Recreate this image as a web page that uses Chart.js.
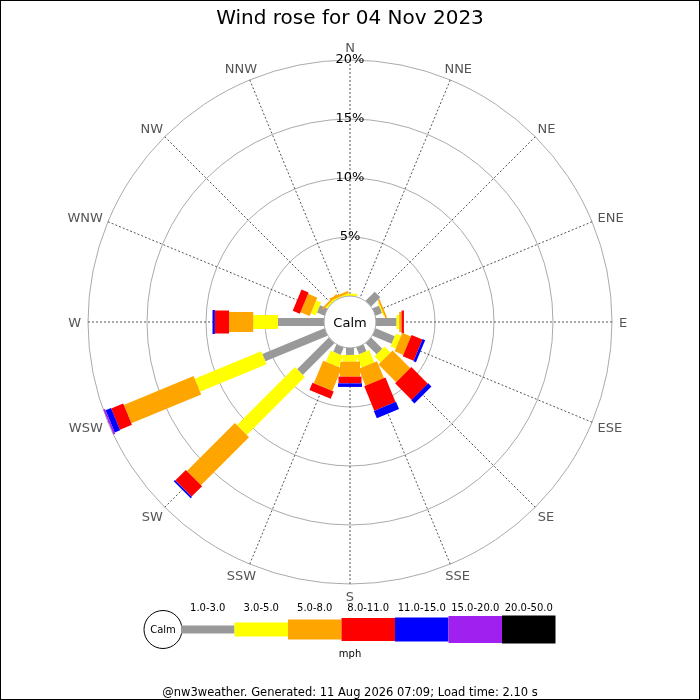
<!DOCTYPE html>
<html>
<head>
<meta charset="utf-8">
<title>Wind rose for 04 Nov 2023</title>
<script src="https://cdn.jsdelivr.net/npm/chart.js@4/dist/chart.umd.min.js"></script>
<style>
html, body { margin: 0; padding: 0; background: #fff; }
#wrap { width: 700px; height: 700px; position: relative; }
</style>
</head>
<body>
<div id="wrap"><canvas id="rosa"></canvas></div>
<script>
// directions, clockwise from north
var direcoes = ["N","NNE","NE","ENE","E","ESE","SE","SSE","S","SSW","SW","WSW","W","WNW","NW","NNW"];
var faixas = ["1.0-3.0","3.0-5.0","5.0-8.0","8.0-11.0","11.0-15.0","15.0-20.0","20.0-50.0"];
var valoresTicks = [5, 10, 15, 20];

// % of the day per direction, one array per speed band (mph)
var vel1a3   = [0, 0, 1.1, 0.6, 1.75, 1.77, 1.33, 0.62, 0.59, 0.68, 3.8, 5.7, 3.9, 0.7, 0, 0];
var vel3a5   = [0.2, 0, 0, 0.1, 0.22, 0.48, 0.73, 1.12, 0.57, 1.02, 6.95, 6.1, 2.1, 0.45, 0.15, 0.1];
var vel5a8   = [0, 0, 0, 0.15, 0.2, 0.79, 2.12, 1.56, 1.27, 2.07, 5.75, 6.4, 2.05, 0.85, 0.15, 0.2];
var vel8a11  = [0, 0, 0, 0, 0.2, 1.0, 1.98, 2.23, 0.57, 0.66, 1.25, 1.1, 1.2, 0.65, 0, 0];
var vel11a15 = [0, 0, 0, 0, 0, 0.23, 0.38, 0.67, 0.3, 0, 0.15, 0.5, 0.2, 0, 0, 0];
var vel15a20 = [0, 0, 0, 0, 0, 0, 0, 0, 0, 0, 0, 0.15, 0, 0, 0, 0];
var vel20a50 = [0, 0, 0, 0, 0, 0, 0, 0, 0, 0, 0, 0, 0, 0, 0, 0];

var series = [vel1a3, vel3a5, vel5a8, vel8a11, vel11a15, vel15a20, vel20a50];
var cores = ["#999999", "#ffff00", "#ffa500", "#ff0000", "#0000ff", "#a020f0", "#000000"];
var larguras = [8, 14, 20, 23, 24, 27, 28];

var fonte = "DejaVu Sans";
Chart.defaults.font.family = fonte;

// each band is stacked on the previous ones, so the radar points sit at the running total
var datasets = [];
var acumulado = direcoes.map(function () { return 0; });
for (var k = 0; k < series.length; k++) {
  var s = series[k];
  acumulado = acumulado.map(function (v, i) { return v + s[i]; });
  datasets.push({
    label: faixas[k],
    data: acumulado.slice(),
    showLine: false,
    fill: false,
    borderWidth: 0,
    pointRadius: 0,
    pointHitRadius: 0
  });
}

var barrasPlugin = {
  id: "barras",
  afterDatasetsDraw: function (chart) {
    var ctx = chart.ctx;
    var r = chart.scales.r;
    ctx.save();
    ctx.lineCap = "butt";
    for (var i = 0; i < direcoes.length; i++) {
      var inicio = r.getPointPositionForValue(i, 0);
      for (var k = 0; k < series.length; k++) {
        var p = chart.getDatasetMeta(k).data[i];
        if (series[k][i] > 0) {
          ctx.beginPath();
          ctx.moveTo(inicio.x, inicio.y);
          ctx.lineTo(p.x, p.y);
          ctx.lineWidth = larguras[k];
          ctx.strokeStyle = cores[k];
          ctx.stroke();
        }
        inicio = { x: p.x, y: p.y };
      }
    }
    // calm circle in the middle
    var raio = r.getDistanceFromCenterForValue(0);
    ctx.beginPath();
    ctx.arc(r.xCenter, r.yCenter, raio, 0, Math.PI * 2);
    ctx.fillStyle = "#fff";
    ctx.fill();
    ctx.lineWidth = 1;
    ctx.strokeStyle = "#aaa";
    ctx.stroke();
    ctx.fillStyle = "#000";
    ctx.font = "13px '" + fonte + "'";
    ctx.textAlign = "center";
    ctx.textBaseline = "middle";
    ctx.fillText("Calm", r.xCenter, r.yCenter + 1.5);
    ctx.restore();
  }
};

var rotulosPlugin = {
  id: "rotulos",
  afterDraw: function (chart) {
    var ctx = chart.ctx;
    var r = chart.scales.r;
    ctx.save();
    ctx.textAlign = "center";
    ctx.textBaseline = "middle";

    // compass labels
    ctx.font = "13px '" + fonte + "'";
    ctx.fillStyle = "#555";
    for (var i = 0; i < direcoes.length; i++) {
      var ang = r.getIndexAngle(i);
      var pos = r.getPointPosition(i, r.drawingArea + 6);
      var w = ctx.measureText(direcoes[i]).width;
      ctx.fillText(direcoes[i], pos.x + Math.sin(ang) * (w / 2 + 1), pos.y - Math.cos(ang) * 6.5 + 1.5);
    }

    // speed legend
    var lx = 181, ly = 629.5, lw = 53.5;
    ctx.beginPath();
    ctx.arc(163, ly, 19, 0, Math.PI * 2);
    ctx.fillStyle = "#fff";
    ctx.fill();
    ctx.strokeStyle = "#000";
    ctx.lineWidth = 1;
    ctx.stroke();
    ctx.font = "10px '" + fonte + "'";
    ctx.fillStyle = "#000";
    ctx.fillText("Calm", 163, ly + 1);
    for (var k = 0; k < faixas.length; k++) {
      ctx.fillStyle = cores[k];
      ctx.fillRect(lx + k * lw, ly - larguras[k] / 2, lw, larguras[k]);
      ctx.fillStyle = "#000";
      ctx.fillText(faixas[k], lx + k * lw + lw / 2, 608.5);
    }
    ctx.fillText("mph", 350, 654.5);

    // frame
    ctx.strokeStyle = "#000";
    ctx.strokeRect(0.5, 0.5, chart.width - 1, chart.height - 1);
    ctx.restore();
  }
};

var grafico = new Chart(document.getElementById("rosa").getContext("2d"), {
  type: "radar",
  data: { labels: direcoes, datasets: datasets },
  options: {
    responsive: true,
    maintainAspectRatio: false,
    animation: false,
    events: [],
    plugins: {
      legend: { display: false },
      tooltip: { enabled: false },
      title: {
        display: true,
        text: "Wind rose for 04 Nov 2023",
        color: "#000",
        font: { size: 20, weight: "normal" },
        padding: { top: 7, bottom: 0 }
      },
      subtitle: {
        display: true,
        position: "bottom",
        text: "@nw3weather. Generated: 11 Aug 2026 07:09; Load time: 2.10 s",
        color: "#000",
        font: { size: 11.5, weight: "normal" },
        padding: { top: 0, bottom: 0 }
      }
    },
    scales: {
      r: {
        min: -2.2,
        max: 20,
        startAngle: 0,
        grid: { circular: true, color: "#aaa", lineWidth: 1 },
        angleLines: { color: "#555", lineWidth: 1, borderDash: [2, 2] },
        pointLabels: { display: false },
        ticks: {
          showLabelBackdrop: false,
          color: "#000",
          font: { size: 13 },
          callback: function (v) { return v + "%"; }
        },
        afterBuildTicks: function (s) {
          s.ticks = valoresTicks.map(function (v) { return { value: v }; });
        },
        afterFit: function (s) {
          s.xCenter = 350;
          s.yCenter = 322;
          s.drawingArea = 262;
        }
      }
    }
  },
  plugins: [barrasPlugin, rotulosPlugin]
});
</script>
</body>
</html>
